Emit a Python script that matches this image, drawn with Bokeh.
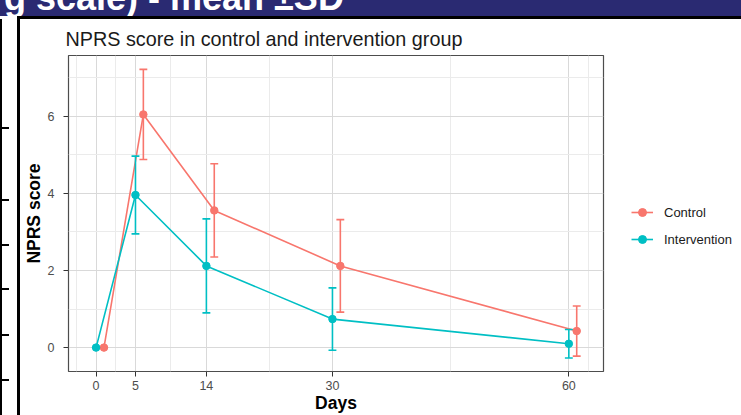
from bokeh.plotting import figure
from bokeh.models import FixedTicker, Legend, LegendItem, Range1d, Div
from bokeh.layouts import column, row
from bokeh.embed import file_html
from bokeh.resources import INLINE

# ---- data ----
days = [0, 5, 14, 30, 60]
groups = ["Control", "Intervention"]
control_mean = [0.0, 6.05, 3.56, 2.12, 0.43]
control_sd = [0.0, 1.17, 1.21, 1.20, 0.65]
intervention_mean = [0.0, 3.96, 2.12, 0.74, 0.10]
intervention_sd = [0.0, 1.01, 1.22, 0.81, 0.37]
x_ticks = [0, 5, 14, 30, 60]
x_minor = [-2.5, 2.5, 9.5, 22, 45, 62.5]
y_ticks = [0, 2, 4, 6]
y_minor = [1, 3, 5, 7]
slide_heading = "g scale) - mean ±SD"

# ---- styles ----
FONT = "Liberation Sans"
COLORS = {"Control": "#F8766D", "Intervention": "#00BFC4"}
DODGE = {"Control": 1.0, "Intervention": 0.0}
CAP = 0.5
LW = 1.6

series = {
    "Control": (control_mean, control_sd),
    "Intervention": (intervention_mean, intervention_sd),
}

p = figure(width=588, height=396, output_backend="svg", toolbar_location=None,
           x_range=Range1d(-3.5, 64.4), y_range=Range1d(-0.62, 7.58),
           min_border_left=44, min_border_right=5, min_border_top=36, min_border_bottom=43)
p.background_fill_color = "white"
p.border_fill_color = "white"
p.outline_line_color = "#4d4d4d"
p.outline_line_width = 1.2

p.title.text = "NPRS score in control and intervention group"
p.title.text_font = FONT
p.title.text_font_size = "19.8px"
p.title.text_font_style = "normal"
p.title.text_color = "#1a1a1a"
p.title.align = "left"
p.title.offset = -3
p.title.standoff = 12

p.xaxis.ticker = FixedTicker(ticks=x_ticks, minor_ticks=x_minor)
p.yaxis.ticker = FixedTicker(ticks=y_ticks, minor_ticks=y_minor)
for ax in (p.xaxis, p.yaxis):
    ax.axis_line_color = None
    ax.major_tick_line_color = "#333333"
    ax.major_tick_out = 5
    ax.major_tick_in = 0
    ax.minor_tick_line_color = None
    ax.major_label_text_font = FONT
    ax.major_label_text_font_size = "12.5px"
    ax.major_label_text_color = "#4d4d4d"
    ax.major_label_standoff = 4
    ax.axis_label_text_font = FONT
    ax.axis_label_text_font_size = "17.5px"
    ax.axis_label_text_font_style = "bold"
    ax.axis_label_text_color = "black"
p.yaxis.major_label_standoff = 9
p.yaxis.axis_label = "NPRS score"
p.yaxis.axis_label_standoff = 1
p.xaxis.axis_label = "Days"
p.xaxis.axis_label_standoff = 0

for g in (p.xgrid, p.ygrid):
    g.grid_line_color = "#d9d9d9"
    g.grid_line_width = 1
    g.minor_grid_line_color = "#ebebeb"
    g.minor_grid_line_width = 1

for g in groups:
    m, s = series[g]
    xs = [d + DODGE[g] for d in days]
    p.line(xs, m, line_color=COLORS[g], line_width=LW)

for g in groups:
    m, s = series[g]
    xs = [d + DODGE[g] for d in days]
    lo = [a - b for a, b in zip(m, s)]
    hi = [a + b for a, b in zip(m, s)]
    p.segment(x0=xs, y0=lo, x1=xs, y1=hi, line_color=COLORS[g], line_width=LW)
    p.segment(x0=[x - CAP for x in xs], y0=hi, x1=[x + CAP for x in xs], y1=hi,
              line_color=COLORS[g], line_width=LW)
    p.segment(x0=[x - CAP for x in xs], y0=lo, x1=[x + CAP for x in xs], y1=lo,
              line_color=COLORS[g], line_width=LW)

for g in groups:
    m, s = series[g]
    xs = [d + DODGE[g] for d in days]
    p.scatter(xs, m, size=7.5, fill_color=COLORS[g], line_color=COLORS[g])

# ---- legend, drawn in its own canvas to the right of the panel ----
# (its view range excludes the data, so only the legend keys show)
lg = figure(width=133, height=396, output_backend="svg", toolbar_location=None,
            x_range=Range1d(-2, -1), y_range=Range1d(-2, -1),
            min_border=0, min_border_left=0, min_border_right=0,
            min_border_top=0, min_border_bottom=0)
lg.axis.visible = False
lg.grid.visible = False
lg.outline_line_color = None
lg.background_fill_color = "white"
lg.border_fill_color = "white"
items = []
for g in groups:
    m, s = series[g]
    lr = lg.line(days, m, line_color=COLORS[g], line_width=LW)
    sr = lg.scatter(days, m, size=7.5, fill_color=COLORS[g], line_color=COLORS[g])
    items.append(LegendItem(label=g, renderers=[lr, sr]))
legend = Legend(items=items, location=(23, 122))
legend.border_line_color = None
legend.background_fill_alpha = 0
legend.padding = 0
legend.margin = 0
legend.spacing = 7
legend.glyph_width = 22
legend.glyph_height = 20
legend.label_height = 20
legend.label_standoff = 11
legend.label_text_font = FONT
legend.label_text_font_size = "13px"
legend.label_text_color = "#1a1a1a"
lg.add_layout(legend)

# ---- slide decoration around the chart ----
band = Div(width=741, height=16, margin=0,
           text=('<div style="position:absolute;left:4px;top:-20px;white-space:nowrap;'
                 'font-family:\'Liberation Sans\';font-weight:bold;font-size:36px;'
                 'line-height:36px;color:white;">' + slide_heading + '</div>'),
           styles={"background-color": "#2a2a72", "overflow": "hidden", "position": "relative"})
rule_gap = Div(width=17, height=3, margin=0, styles={"background-color": "white"})
rule_top = Div(width=724, height=3, margin=0, styles={"background-color": "black"})
ticks_html = "".join(
    '<div style="position:absolute;left:0;top:%dpx;width:7px;height:2px;background:black;"></div>' % t
    for t in (108, 180, 225, 269, 315, 360))
left_strip = Div(width=17, height=396, margin=0, text=ticks_html,
                 styles={"background-color": "white", "border-left": "2px solid black",
                         "box-sizing": "border-box", "position": "relative", "overflow": "hidden"})
rule_left = Div(width=3, height=396, margin=0, styles={"background-color": "black"})

layout = column(band, row(rule_gap, rule_top, spacing=0),
                row(left_strip, rule_left, p, lg, spacing=0), spacing=0)

open("out.html", "w").write(file_html(layout, INLINE))
